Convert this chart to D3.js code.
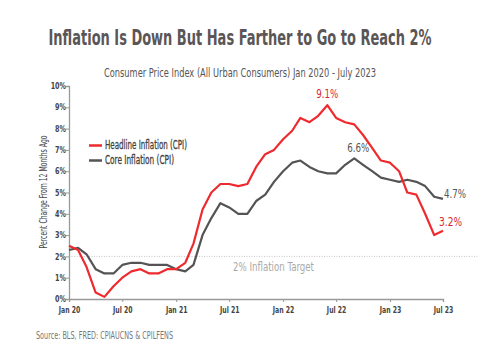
<!DOCTYPE html>
<html><head><meta charset="utf-8">
<script src="https://cdn.jsdelivr.net/npm/d3@7"></script>
<style>
body{margin:0;background:#fff;}
text{font-family:"DejaVu Sans Condensed","Liberation Sans Narrow",sans-serif;font-stretch:condensed;}
</style></head>
<body><svg id="c" width="480" height="360"></svg>
<script>
const months = d3.range(43).map(i => new Date(2020, i, 1));
const headline = [2.5,2.3,1.5,0.3,0.1,0.6,1.0,1.3,1.4,1.2,1.2,1.4,
  1.4,1.7,2.6,4.2,5.0,5.4,5.4,5.3,5.4,6.2,6.8,7.0,
  7.5,7.9,8.5,8.3,8.6,9.1,8.5,8.3,8.2,7.7,7.1,6.5,
  6.4,6.0,5.0,4.9,4.0,3.0,3.2];
const core = [2.3,2.4,2.1,1.4,1.2,1.2,1.6,1.7,1.7,1.6,1.6,1.6,
  1.4,1.3,1.6,3.0,3.8,4.5,4.3,4.0,4.0,4.6,4.9,5.5,
  6.0,6.4,6.5,6.2,6.0,5.9,5.9,6.3,6.6,6.3,6.0,5.7,
  5.6,5.5,5.6,5.5,5.3,4.8,4.7];
const xTickLabels = ["Jan 20","Jul 20","Jan 21","Jul 21","Jan 22","Jul 22","Jan 23","Jul 23"];
const yTicks = [0,1,2,3,4,5,6,7,8,9,10];
const target = 2;

const svg = d3.select("#c");
const x = d3.scaleTime().domain([months[0], months[42]]).range([69, 443]);
const y = d3.scaleLinear().domain([0, 10]).range([299, 86]);

function fit(sel, w) {
  sel.attr("textLength", w).attr("lengthAdjust", "spacingAndGlyphs");
  return sel;
}
function condense(sel, f) {
  sel.each(function() {
    const w = this.getComputedTextLength();
    d3.select(this).attr("textLength", w * f).attr("lengthAdjust", "spacingAndGlyphs");
  });
}

fit(svg.append("text").attr("transform","translate(240,45) scale(1,1.45)").attr("text-anchor","middle")
  .attr("font-size",15).attr("font-weight","bold").attr("fill","#5b5656")
  .text("Inflation Is Down But Has Farther to Go to Reach 2%"), 383);
fit(svg.append("text").attr("x",240).attr("y",77).attr("text-anchor","middle")
  .attr("font-size",12.5).attr("fill","#555")
  .text("Consumer Price Index (All Urban Consumers) Jan 2020 - July 2023"), 272);

// target line
svg.append("line").attr("x1",69).attr("x2",478).attr("y1",y(target)).attr("y2",y(target))
  .attr("stroke","#c8c8c8").attr("stroke-width",1).attr("stroke-dasharray","1,1.5");
fit(svg.append("text").attr("x",233).attr("y",271).attr("font-size",12).attr("fill","#aaa")
  .text("2% Inflation Target"), 81);

// axes
const yAxis = svg.append("g").attr("transform","translate(69,0)")
  .call(d3.axisLeft(y).tickValues(yTicks).tickSize(3).tickFormat(d => d + "%"));
const xAxis = svg.append("g").attr("transform","translate(0,299)")
  .call(d3.axisBottom(x).tickValues(d3.range(0,43,6).map(i => months[i])).tickSize(3)
    .tickFormat((d,i) => xTickLabels[i]));
[yAxis, xAxis].forEach(a => {
  a.select(".domain").attr("stroke","#999").attr("stroke-width",1.3);
  a.selectAll(".tick line").attr("stroke","#999");
  a.selectAll("text").attr("font-size",9.5).attr("fill","#444").attr("font-weight","bold")
    .style("font-family","\"DejaVu Sans Condensed\",sans-serif");
});
yAxis.selectAll("text").attr("x",-3).attr("dy","0.28em");
xAxis.selectAll("text").attr("y",7);
condense(yAxis.selectAll("text"), 0.75);
condense(xAxis.selectAll("text"), 0.72);

fit(svg.append("text").attr("transform","translate(47,192) rotate(-90)").attr("text-anchor","middle")
  .attr("font-size",11).attr("fill","#444")
  .text("Percent Change From 12 Months Ago"), 113);

const line = d3.line().x((d,i) => x(months[i])).y(d => y(d));
svg.append("path").datum(core).attr("d",line).attr("fill","none")
  .attr("stroke","#555353").attr("stroke-width",2.2).attr("stroke-linejoin","round");
svg.append("path").datum(headline).attr("d",line).attr("fill","none")
  .attr("stroke","#ee2a2e").attr("stroke-width",2.2).attr("stroke-linejoin","round");

// legend
const leg = [["Headline Inflation (CPI)","#ee2a2e",145.5,149,82],["Core Inflation (CPI)","#555353",160.5,164,69]];
leg.forEach(l => {
  svg.append("line").attr("x1",89).attr("x2",102).attr("y1",l[2]).attr("y2",l[2])
    .attr("stroke",l[1]).attr("stroke-width",2.5);
  fit(svg.append("text").attr("transform",`translate(105,${l[3]}) scale(1,1.15)`)
    .attr("font-size",10.5).attr("fill","#3f3f3f").attr("stroke","#3f3f3f").attr("stroke-width",0.25)
    .text(l[0]), l[4]);
});

// annotations
const iPeak = headline.indexOf(d3.max(headline));
fit(svg.append("text").attr("x",x(months[iPeak])).attr("y",y(headline[iPeak])-7).attr("text-anchor","middle")
  .attr("font-size",11.5).attr("fill","#d81f2e").text(headline[iPeak].toFixed(1)+"%"), 22);
const cPeak = core.indexOf(d3.max(core));
fit(svg.append("text").attr("x",x(months[cPeak])+4).attr("y",y(core[cPeak])-6).attr("text-anchor","middle")
  .attr("font-size",11.5).attr("fill","#555").text(core[cPeak].toFixed(1)+"%"), 22);
fit(svg.append("text").attr("x",444).attr("y",198).attr("font-size",11.5).attr("fill","#555")
  .text(core[42].toFixed(1)+"%"), 22);
fit(svg.append("text").attr("x",439).attr("y",226).attr("font-size",11.5).attr("fill","#d81f2e")
  .text(headline[42].toFixed(1)+"%"), 23);

fit(svg.append("text").attr("x",36).attr("y",339).attr("font-size",11).attr("fill","#777")
  .text("Source: BLS, FRED: CPIAUCNS & CPILFENS"), 137);
</script></body></html>
